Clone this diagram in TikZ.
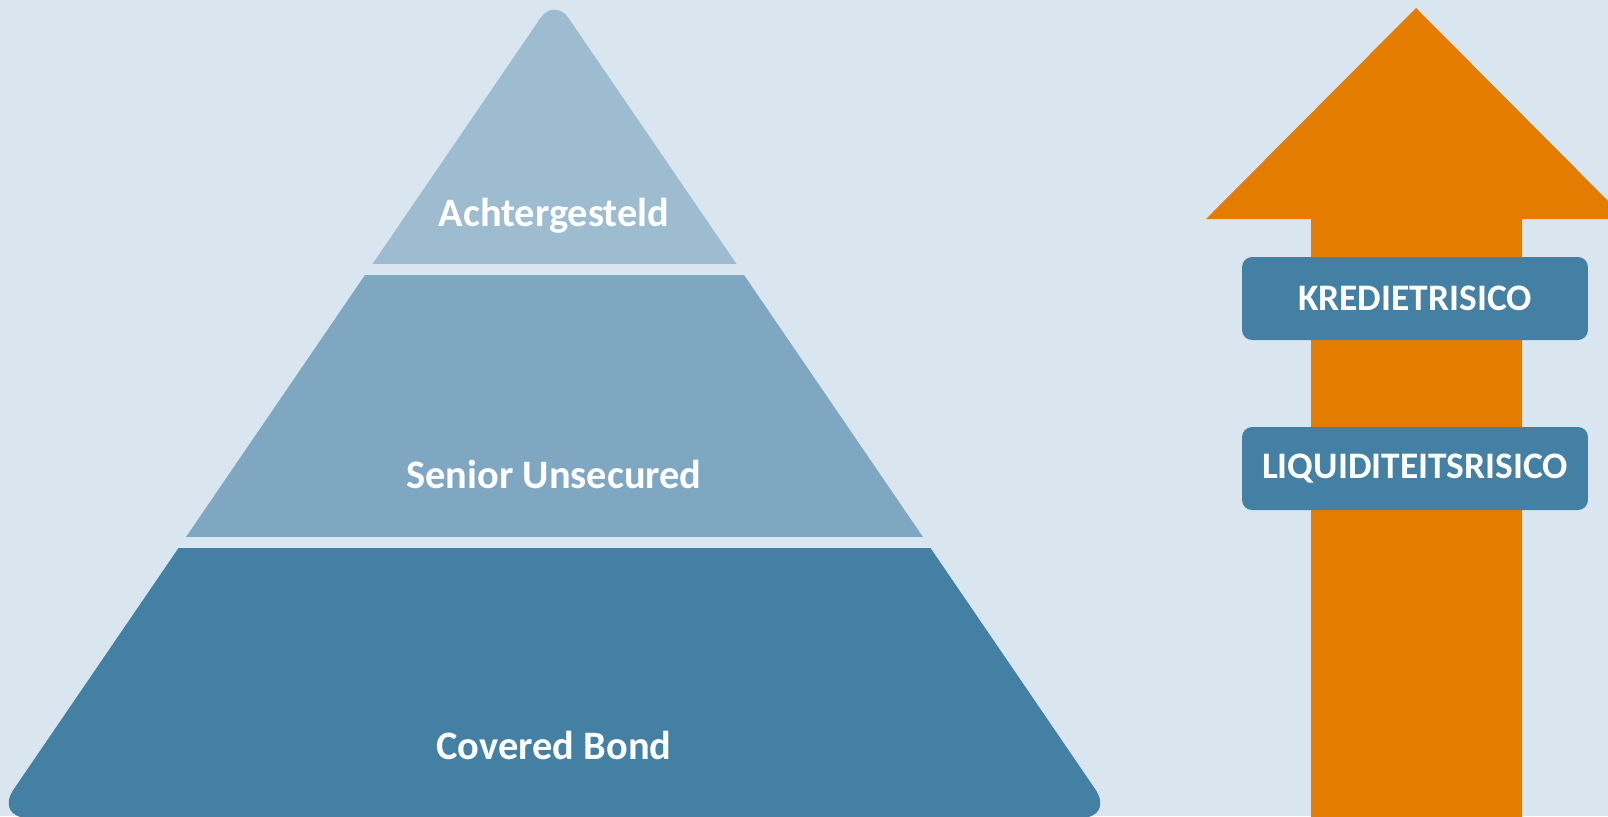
\documentclass[tikz,border=0pt]{standalone}
\usepackage{fontspec}
\setmainfont{Carlito}
\usepackage{tikz}
\usepackage{xcolor}
\definecolor{Fond}{HTML}{D9E6EF}
\definecolor{LaagBoven}{HTML}{9DBCD0}
\definecolor{LaagMidden}{HTML}{7FA7C1}
\definecolor{LaagOnder}{HTML}{4380A3}
\definecolor{Oranje}{HTML}{E57C02}
\tikzset{
LaagTekst/.style={
 text=white,
 font=\fontsize{23}{28}\selectfont\bfseries,
 anchor=base,
 inner sep=0pt
 },
RisicoBox/.style={
 fill=LaagOnder,
 text=white,
 font=\fontsize{21.3}{26}\selectfont\bfseries,
 rounded corners=0.2cm,
 minimum width=6.92cm,
 minimum height=1.66cm,
 inner sep=0pt
 }
}

\begin{document}
\begin{tikzpicture}[x=0.02cm,y=-0.02cm]
\useasboundingbox (0,0) rectangle (1608,816);
\fill[Fond] (0,0) rectangle (1608,816);
\begin{scope}
\clip[rounded corners=0.7cm] (-5.9,818) [rounded corners=0.5cm] -- (554.5,-2.5) [rounded corners=0.7cm] -- (1114.9,818) -- cycle;
\fill[LaagBoven] (-10,-10) rectangle (1120,264);
\fill[LaagMidden] (-10,275) rectangle (1120,537);
\fill[LaagOnder] (-10,548) rectangle (1120,830);
\end{scope}
\node[LaagTekst] (achtergesteld) at (554,226) {Achtergesteld};
\node[LaagTekst] (senior) at (554,488) {Senior Unsecured};
\node[LaagTekst] (covered) at (554,759) {Covered Bond};
\fill[Oranje] (1311,830) -- (1311,219) -- (1206,219) -- (1416,8) -- (1626,219) -- (1522,219) -- (1522,830) -- cycle;
\node[RisicoBox] (krediet) at (1415,298.5) {KREDIETRISICO};
\node[RisicoBox] (liquiditeit) at (1415,468.5) {LIQUIDITEITSRISICO};
\end{tikzpicture}
\end{document}
